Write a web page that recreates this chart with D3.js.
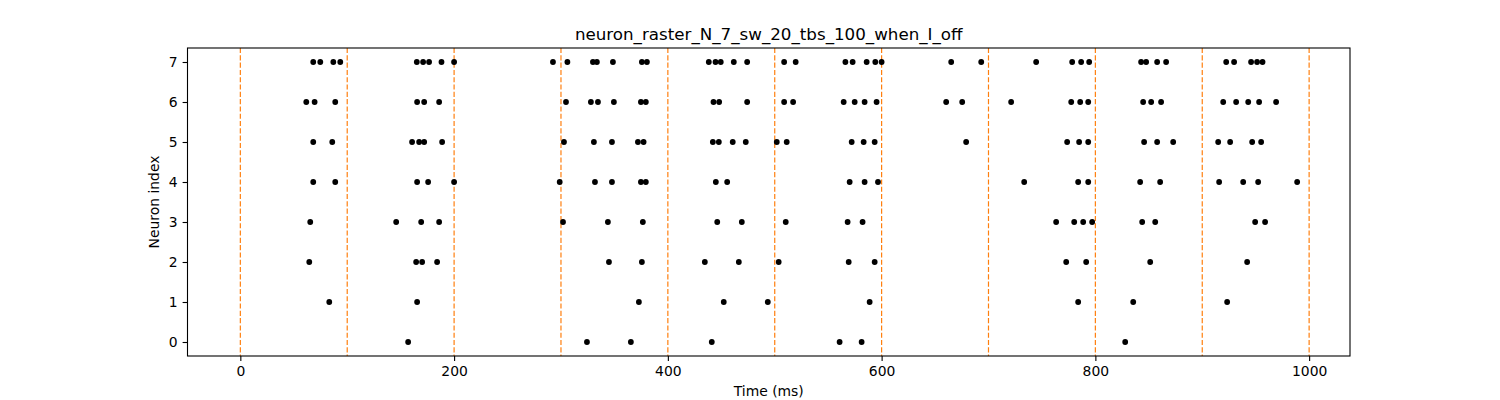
<!DOCTYPE html>
<html>
<head>
<meta charset="utf-8">
<script src="https://cdn.jsdelivr.net/npm/d3@7"></script>
<style>
  html, body { margin: 0; padding: 0; background: #fff; }
  svg { display: block; }
  text { font-family: "DejaVu Sans", sans-serif; fill: #000; }
</style>
</head>
<body>
<svg id="chart" width="1500" height="400"></svg>
<script>
// ---- data (spike times in ms, per neuron index) ----
const title = "neuron_raster_N_7_sw_20_tbs_100_when_I_off";
const xLabel = "Time (ms)";
const yLabel = "Neuron index";
const neurons = [0, 1, 2, 3, 4, 5, 6, 7];
const xTicks = [0, 200, 400, 600, 800, 1000];
const boundaries = [0, 100, 200, 300, 400, 500, 600, 700, 800, 900, 1000];

const spikes0 = [157.0, 324.3, 365.4, 441.1, 560.7, 581.3, 827.9];
const spikes1 = [83.2, 165.4, 372.9, 452.3, 493.5, 588.8, 783.9, 835.4, 923.3];
const spikes2 = [64.5, 164.5, 170.1, 184.1, 344.9, 375.7, 434.6, 466.4, 503.7, 569.2, 593.5, 772.7, 791.4, 851.3, 942.0];
const spikes3 = [65.4, 145.8, 169.2, 186.0, 301.9, 343.9, 376.6, 446.2, 469.2, 510.3, 568.2, 582.2, 763.3, 780.2, 788.6, 797.0, 843.8, 856.0, 949.5, 958.8];
const spikes4 = [68.2, 88.8, 165.4, 175.7, 200.0, 298.8, 331.8, 347.7, 374.8, 379.4, 444.9, 455.5, 570.1, 584.1, 596.6, 733.4, 783.9, 793.3, 841.9, 860.6, 915.8, 938.3, 952.3, 988.8];
const spikes5 = [68.2, 86.0, 160.7, 167.3, 172.0, 188.8, 302.8, 330.8, 347.7, 372.0, 377.3, 442.1, 447.7, 460.7, 472.9, 501.9, 511.2, 572.0, 583.2, 593.5, 679.1, 773.6, 784.8, 793.3, 845.6, 857.8, 872.8, 914.9, 926.1, 946.7, 955.1];
const spikes6 = [61.7, 69.5, 88.8, 165.4, 172.0, 186.0, 304.7, 328.0, 334.6, 349.5, 374.8, 379.4, 442.7, 448.0, 474.2, 508.8, 517.2, 564.5, 574.8, 584.1, 595.3, 660.4, 675.4, 721.2, 777.4, 785.8, 793.3, 844.7, 852.2, 861.5, 919.6, 931.7, 943.0, 953.2, 969.1];
const spikes7 = [68.2, 74.8, 87.0, 93.5, 165.1, 171.0, 176.6, 188.2, 200.0, 292.5, 306.0, 329.9, 333.6, 348.6, 375.7, 380.4, 438.3, 444.6, 449.5, 461.7, 474.2, 508.8, 519.6, 566.1, 572.9, 586.0, 594.1, 600.0, 665.1, 693.2, 744.6, 778.3, 786.7, 794.2, 842.8, 847.5, 857.8, 866.2, 922.4, 929.8, 945.7, 951.3, 956.4];

const spikeTrains = [spikes0, spikes1, spikes2, spikes3, spikes4, spikes5, spikes6, spikes7];

// ---- layout ----
const mLeft = 187.5, mRight = 1350, mTop = 48, mBottom = 356;

// x limits: simulation start (first boundary) to last spike, 5% margins
const tMin = d3.min(boundaries);
const tMax = d3.max(spikeTrains.flat());
const xPad = (tMax - tMin) * 0.05;
const x = d3.scaleLinear().domain([tMin - xPad, tMax + xPad]).range([mLeft, mRight]);
const yPad = (d3.max(neurons) - d3.min(neurons)) * 0.05;
const y = d3.scaleLinear().domain([d3.min(neurons) - yPad, d3.max(neurons) + yPad]).range([mBottom, mTop]);

const svg = d3.select("#chart");

svg.append("defs").append("clipPath").attr("id", "clip")
  .append("rect").attr("x", mLeft).attr("y", mTop).attr("width", mRight - mLeft).attr("height", mBottom - mTop);

const plot = svg.append("g").attr("clip-path", "url(#clip)");

// boundary lines
plot.selectAll("line.bound").data(boundaries).enter().append("line")
  .attr("class", "bound")
  .attr("x1", d => x(d)).attr("x2", d => x(d))
  .attr("y1", mTop).attr("y2", mBottom)
  .attr("stroke", "#ff7f0e").attr("stroke-width", 1.2)
  .attr("stroke-dasharray", "5.1,2.2");

// spikes
const points = [];
spikeTrains.forEach((arr, i) => arr.forEach(t => points.push({ t, n: neurons[i] })));
plot.selectAll("circle").data(points).enter().append("circle")
  .attr("cx", d => x(d.t)).attr("cy", d => y(d.n))
  .attr("r", 2.9).attr("fill", "#000");

// axes
const fs = 13.9;
const xAxis = d3.axisBottom(x).tickValues(xTicks).tickSize(4.9).tickPadding(4.9).tickFormat(d3.format("d"));
const gx = svg.append("g").attr("transform", `translate(0,${mBottom})`).call(xAxis);
const yAxis = d3.axisLeft(y).tickValues(neurons).tickSize(4.9).tickPadding(4.9).tickFormat(d3.format("d"));
const gy = svg.append("g").attr("transform", `translate(${mLeft},0)`).call(yAxis);
[gx, gy].forEach(g => {
  g.select(".domain").remove();
  g.selectAll(".tick line").attr("stroke", "#000").attr("stroke-width", 1.1);
  g.selectAll(".tick text").style("font-family", "DejaVu Sans").style("font-size", fs + "px").attr("fill", "#000");
});

// frame
svg.append("rect").attr("x", mLeft).attr("y", mTop).attr("width", mRight - mLeft).attr("height", mBottom - mTop)
  .attr("fill", "none").attr("stroke", "#000").attr("stroke-width", 1.1);

// title & labels
svg.append("text").attr("x", (mLeft + mRight) / 2).attr("y", 39.7)
  .attr("text-anchor", "middle").style("font-size", "16.7px").text(title);
svg.append("text").attr("x", (mLeft + mRight) / 2).attr("y", 396)
  .attr("text-anchor", "middle").style("font-size", fs + "px").text(xLabel);
svg.append("text").attr("transform", `translate(159,${(mTop + mBottom) / 2}) rotate(-90)`)
  .attr("text-anchor", "middle").style("font-size", fs + "px").text(yLabel);
</script>
</body>
</html>
